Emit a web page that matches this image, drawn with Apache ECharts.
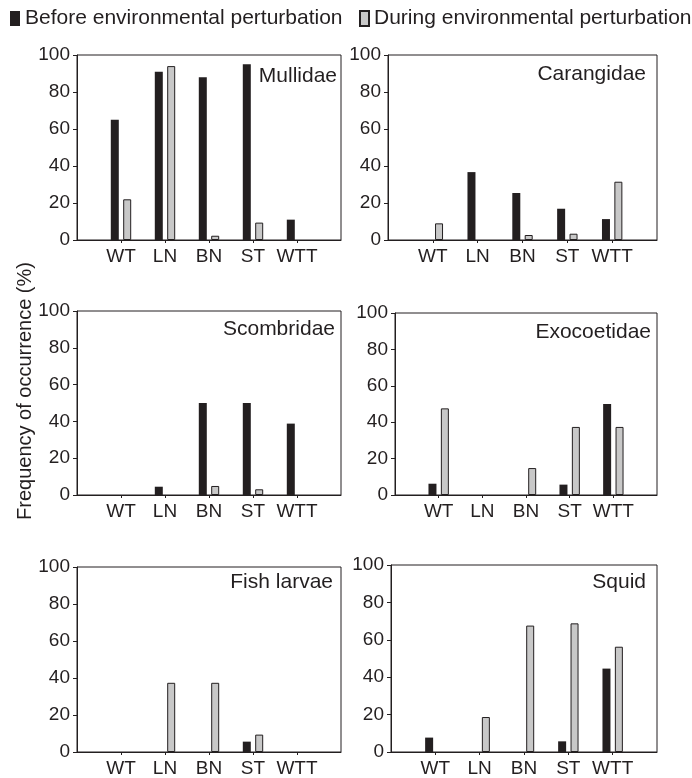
<!DOCTYPE html>
<html>
<head>
<meta charset="utf-8">
<style>
html,body{margin:0;padding:0;background:#fff;}
#chart{width:692px;height:778px;}
</style>
<script src="https://cdn.jsdelivr.net/npm/echarts@6/dist/echarts.min.js"></script>
</head>
<body>
<div id="chart"></div>
<script>
// ---- Data ----
const categories = ['WT', 'LN', 'BN', 'ST', 'WTT'];
const yTicks = [0, 20, 40, 60, 80, 100];
const seriesNames = ['Before environmental perturbation', 'During environmental perturbation'];
const panelNames = ['Mullidae', 'Carangidae', 'Scombridae', 'Exocoetidae', 'Fish larvae', 'Squid'];

const mullidaeBefore = [65, 91, 88, 95, 11];
const mullidaeDuring = [22, 94, 2.3, 9.4, 0];
const carangidaeBefore = [0, 36.7, 25.4, 16.9, 11.3];
const carangidaeDuring = [9, 0, 2.7, 3.4, 31.5];
const scombridaeBefore = [0, 4.5, 50, 50, 38.8];
const scombridaeDuring = [0, 0, 4.9, 3.1, 0];
const exocoetidaeBefore = [6.2, 0, 0, 5.7, 50];
const exocoetidaeDuring = [47.6, 0, 14.8, 37.4, 37.4];
const fishLarvaeBefore = [0, 0, 0, 5.6, 0];
const fishLarvaeDuring = [0, 37.4, 37.4, 9.4, 0];
const squidBefore = [7.7, 0, 0, 5.7, 44.6];
const squidDuring = [0, 18.7, 67.6, 68.8, 56.3];

const panelBefore = [mullidaeBefore, carangidaeBefore, scombridaeBefore, exocoetidaeBefore, fishLarvaeBefore, squidBefore];
const panelDuring = [mullidaeDuring, carangidaeDuring, scombridaeDuring, exocoetidaeDuring, fishLarvaeDuring, squidDuring];

// ---- Layout ----
const grids = [
  {left: 77, top: 55, width: 264, height: 185},
  {left: 388, top: 55, width: 269, height: 185},
  {left: 77, top: 311, width: 264, height: 184},
  {left: 395, top: 313, width: 262, height: 182},
  {left: 77, top: 567, width: 264, height: 185},
  {left: 391, top: 565, width: 266, height: 187}
];
const titlePos = [
  {x: 337, y: 76}, {x: 646, y: 74},
  {x: 335, y: 329}, {x: 651, y: 332},
  {x: 333, y: 582}, {x: 646, y: 582}
];

const INK = '#231f20';
const FONT = '"Liberation Sans", Arial, Helvetica, sans-serif';
const axisCats = [''].concat(categories, ['']);
const pad = arr => [null].concat(arr.map(v => v === 0 ? null : v), [null]);

const option = {
  animation: false,
  backgroundColor: '#fff',
  textStyle: {fontFamily: FONT, color: INK},
  legend: [
    {data: [seriesNames[0]], left: 10, top: 8, icon: 'rect', itemWidth: 10, itemHeight: 15,
     selectedMode: false, padding: 0, textStyle: {fontSize: 21, color: INK, fontFamily: FONT}},
    {data: [seriesNames[1]], left: 359, top: 8, icon: 'rect', itemWidth: 9, itemHeight: 15,
     selectedMode: false, padding: 0, textStyle: {fontSize: 21, color: INK, fontFamily: FONT}}
  ],
  grid: grids.map(g => Object.assign({show: true, borderColor: INK, borderWidth: 1, backgroundColor: 'transparent', containLabel: false}, g)),
  xAxis: grids.map((g, i) => ({
    type: 'category', gridIndex: i, data: axisCats, boundaryGap: false,
    axisLine: {show: true, lineStyle: {color: INK, width: 1}},
    axisTick: {show: true, length: 3, lineStyle: {color: INK}, interval: (idx, val) => val !== ''},
    axisLabel: {interval: 0, fontSize: 19, color: INK, margin: 7, fontFamily: FONT},
    splitLine: {show: false}
  })),
  yAxis: grids.map((g, i) => ({
    type: 'value', gridIndex: i, min: yTicks[0], max: yTicks[yTicks.length - 1], interval: yTicks[1] - yTicks[0],
    axisLine: {show: true, lineStyle: {color: INK, width: 1}},
    axisTick: {show: true, length: 4, lineStyle: {color: INK}},
    axisLabel: {fontSize: 19, color: INK, margin: 7, fontFamily: FONT},
    splitLine: {show: false}
  })),
  series: [],
  graphic: []
};

panelNames.forEach((name, i) => {
  option.series.push({
    type: 'bar', name: seriesNames[0], xAxisIndex: i, yAxisIndex: i,
    data: pad(panelBefore[i]), barWidth: 8, barGap: '55%',
    itemStyle: {color: INK}
  });
  option.series.push({
    type: 'bar', name: seriesNames[1], xAxisIndex: i, yAxisIndex: i,
    data: pad(panelDuring[i]), barWidth: 8, barGap: '55%',
    itemStyle: {color: '#c8c8c8', borderColor: INK, borderWidth: 1}
  });
  option.graphic.push({
    type: 'text', x: titlePos[i].x, y: titlePos[i].y,
    style: {text: name, font: '21px ' + FONT, fill: INK, align: 'right', verticalAlign: 'middle'}
  });
});

option.graphic.push({
  type: 'text', x: 25, y: 391, rotation: Math.PI / 2,
  style: {text: 'Frequency of occurrence (%)', font: '20px ' + FONT, fill: INK, align: 'center', verticalAlign: 'middle'}
});

const chart = echarts.init(document.getElementById('chart'), null, {renderer: 'canvas'});
chart.setOption(option);
</script>
</body>
</html>
